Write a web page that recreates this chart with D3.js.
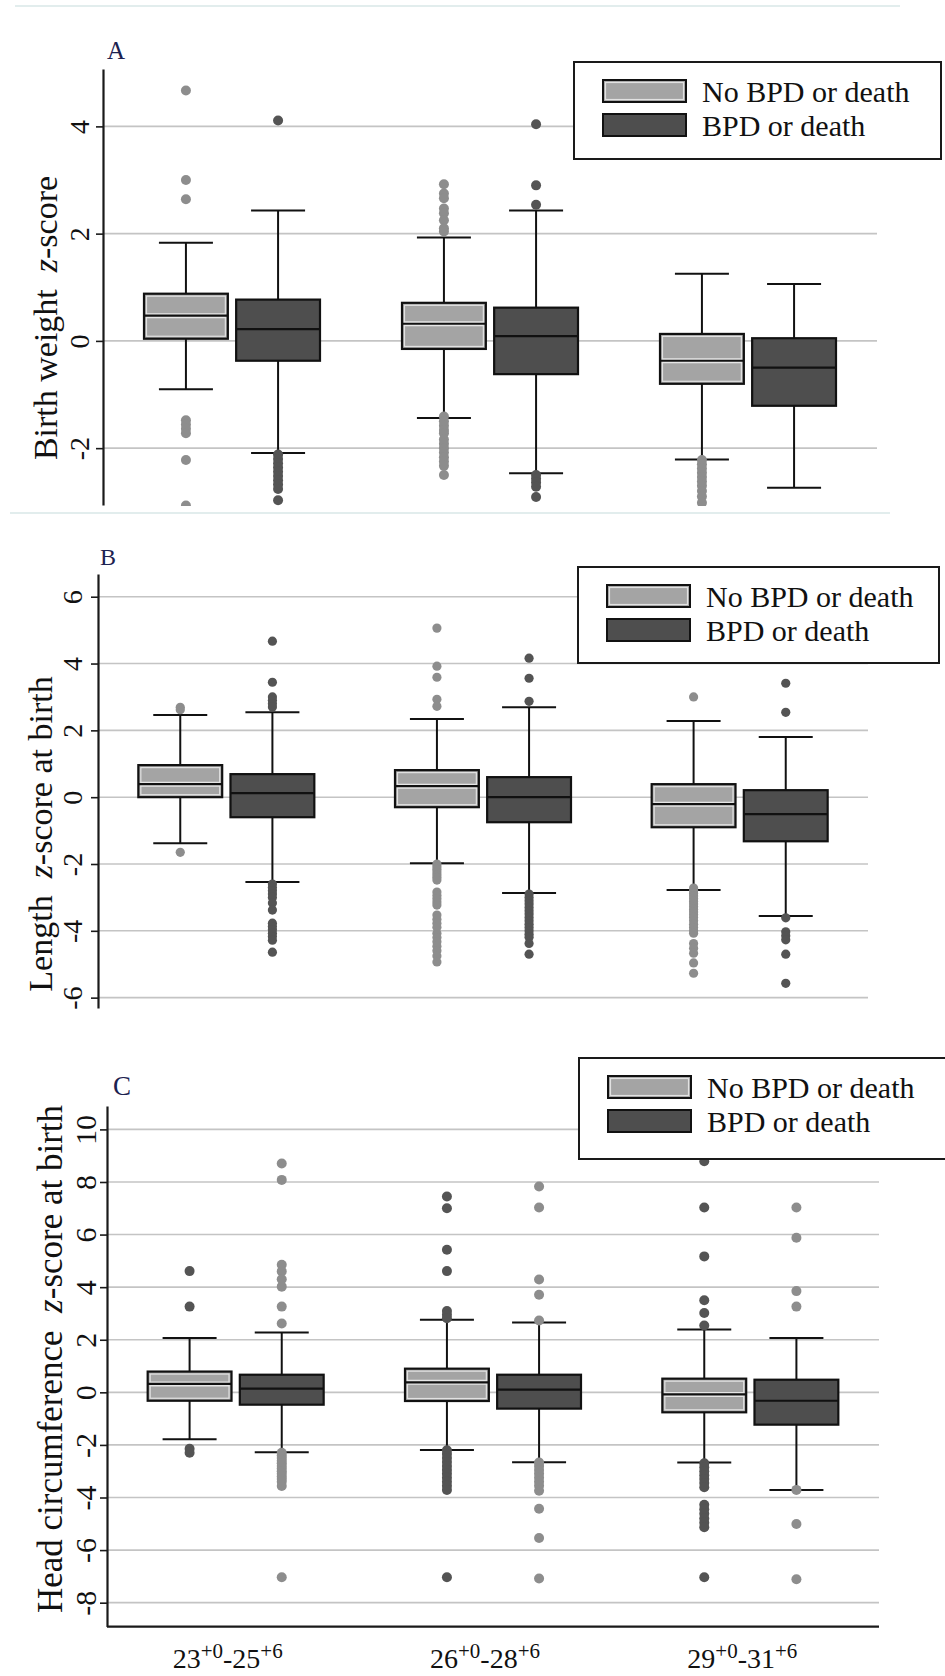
<!DOCTYPE html>
<html>
<head>
<meta charset="utf-8">
<script src="https://cdn.jsdelivr.net/npm/d3@7"></script>
<style>
  body { margin: 0; background: #fff; }
  svg { display: block; font-family: "Liberation Serif", "Times New Roman", serif; }
</style>
</head>
<body>
<div id="chart"></div>
<script>
// gestational age groups and outcome categories
var groups = ["23-25", "26-28", "29-31"];
var groupLabels = [["23", "+0", "-25", "+6"], ["26", "+0", "-28", "+6"], ["29", "+0", "-31", "+6"]];
var outcomes = ["No BPD or death", "BPD or death"];

// box stats per group: [lower whisker, q1, median, q3, upper whisker]
// A: birth weight z-score
var bwNoBpd = [[-0.90, 0.04, 0.47, 0.88, 1.83], [-1.44, -0.15, 0.32, 0.71, 1.93], [-2.21, -0.80, -0.37, 0.13, 1.25]];
var bwBpd = [[-2.09, -0.37, 0.22, 0.77, 2.43], [-2.47, -0.62, 0.09, 0.62, 2.43], [-2.74, -1.21, -0.50, 0.05, 1.06]];
var bwNoBpdOut = [
  [4.67, 3.0, 2.64, -1.48, -1.56, -1.64, -1.72, -2.22, -3.07],
  [2.92, 2.75, 2.66, 2.47, 2.38, 2.25, 2.1, 2.04, -1.41, -1.5, -1.58, -1.66, -1.72, -1.84, -1.92, -2.0, -2.08, -2.17, -2.25, -2.33, -2.5],
  [-2.22, -2.3, -2.38, -2.46, -2.54, -2.62, -2.7, -2.8, -2.9, -3.02]
];
var bwBpdOut = [
  [4.11, -2.12, -2.2, -2.28, -2.36, -2.44, -2.52, -2.6, -2.68, -2.76, -2.97],
  [4.04, 2.9, 2.54, -2.5, -2.57, -2.64, -2.72, -2.91],
  []
];

// B: length z-score at birth
var lenNoBpd = [[-1.38, 0.0, 0.39, 0.96, 2.46], [-1.98, -0.30, 0.33, 0.81, 2.34], [-2.78, -0.90, -0.21, 0.39, 2.28]];
var lenBpd = [[-2.54, -0.60, 0.12, 0.69, 2.54], [-2.87, -0.75, 0.0, 0.60, 2.69], [-3.56, -1.32, -0.51, 0.21, 1.80]];
var lenNoBpdOut = [
  [2.69, 2.62, -1.65],
  [5.06, 3.92, 3.59, 2.93, 2.72, -2.0, -2.08, -2.16, -2.24, -2.32, -2.4, -2.48, -2.84, -2.94, -3.04, -3.14, -3.23, -3.53, -3.65, -3.77, -3.89, -4.07, -4.2, -4.33, -4.46, -4.6, -4.75, -4.93],
  [3.0, -2.72, -2.8, -2.88, -2.96, -3.04, -3.12, -3.2, -3.28, -3.36, -3.44, -3.52, -3.6, -3.7, -3.8, -3.9, -4.0, -4.07, -4.38, -4.52, -4.67, -4.96, -5.27]
];
var lenBpdOut = [
  [4.67, 3.44, 3.0, 2.9, 2.8, 2.7, -2.6, -2.7, -2.8, -2.9, -3.0, -3.17, -3.38, -3.77, -3.87, -3.97, -4.07, -4.17, -4.28, -4.64],
  [4.16, 3.56, 2.87, -2.9, -3.0, -3.1, -3.2, -3.3, -3.4, -3.5, -3.6, -3.7, -3.8, -3.9, -4.0, -4.1, -4.19, -4.38, -4.7],
  [3.41, 2.54, -3.61, -4.03, -4.15, -4.27, -4.7, -5.57]
];

// C: head circumference z-score at birth
var hcNoBpd = [[-1.78, -0.32, 0.32, 0.79, 2.07], [-2.19, -0.33, 0.38, 0.90, 2.76], [-2.67, -0.76, -0.08, 0.52, 2.39]];
var hcBpd = [[-2.28, -0.47, 0.14, 0.67, 2.28], [-2.66, -0.62, 0.10, 0.67, 2.66], [-3.71, -1.23, -0.32, 0.48, 2.07]];
var hcNoBpdOut = [
  [4.61, 3.26, -2.15, -2.3],
  [7.45, 7.0, 5.42, 4.61, 3.09, 2.95, 2.82, -2.2, -2.35, -2.5, -2.65, -2.8, -2.95, -3.1, -3.25, -3.4, -3.55, -3.71, -7.03],
  [8.79, 7.03, 5.17, 3.5, 3.02, 2.54, -2.7, -2.85, -3.0, -3.15, -3.3, -3.45, -3.61, -4.28, -4.45, -4.62, -4.8, -4.96, -5.13, -7.03]
];
var hcBpdOut = [
  [8.7, 8.08, 4.85, 4.6, 4.3, 4.02, 3.26, 2.62, -2.3, -2.4, -2.5, -2.6, -2.7, -2.8, -2.9, -3.0, -3.1, -3.2, -3.3, -3.4, -3.56, -7.03],
  [7.83, 7.03, 4.29, 3.71, 2.73, -2.67, -2.8, -2.95, -3.1, -3.25, -3.4, -3.55, -3.74, -4.43, -5.54, -7.08],
  [7.03, 5.88, 3.85, 3.26, -3.71, -5.01, -7.11]
];

var serif = "'Liberation Serif', 'Times New Roman', serif";
var lightFill = "#a4a4a4", darkFill = "#4e4e4e";
var lightDot = "#8d8d8d", darkDot = "#545454";

var svg = d3.select("#chart").append("svg")
  .attr("width", 945)
  .attr("height", 1676);

// faint separators from the original figure
svg.append("line").attr("x1", 15).attr("x2", 900).attr("y1", 6).attr("y2", 6)
  .attr("stroke", "#e2eded").attr("stroke-width", 2);
svg.append("line").attr("x1", 10).attr("x2", 890).attr("y1", 513).attr("y2", 513)
  .attr("stroke", "#e2eded").attr("stroke-width", 2);

var panels = [
  {
    id: "A", stats: [bwNoBpd, bwBpd], out: [bwNoBpdOut, bwBpdOut],
    title: ["Birth weight  ", "z", "-score"],
    left: 103, right: 877, top: 69, bottom: 505, domain: [-3.06, 5.07],
    ticks: [-2, 0, 2, 4], tickSize: 28, tickGap: 14, r: 5,
    titleX: 57, titleY: 318, titleSize: 34,
    letterX: 107, letterY: 59, letterSize: 25,
    legend: [574, 62, 367, 97], clip: true
  },
  {
    id: "B", stats: [lenNoBpd, lenBpd], out: [lenNoBpdOut, lenBpdOut],
    title: ["Length  ", "z", "-score at birth"],
    left: 98, right: 868, top: 574, bottom: 1008, domain: [-6.31, 6.68],
    ticks: [-6, -4, -2, 0, 2, 4, 6], tickSize: 28, tickGap: 16, r: 4.6,
    titleX: 52, titleY: 834, titleSize: 34,
    letterX: 100, letterY: 565, letterSize: 24,
    legend: [578, 567, 361, 96]
  },
  {
    id: "C", stats: [hcNoBpd, hcBpd], out: [hcNoBpdOut, hcBpdOut],
    title: ["Head circumference  ", "z", "-score at birth"],
    left: 107, right: 879, top: 1106, bottom: 1626.6, domain: [-8.91, 10.89],
    ticks: [-8, -6, -4, -2, 0, 2, 4, 6, 8, 10], tickSize: 30, tickGap: 11, r: 5,
    titleX: 62, titleY: 1359, titleSize: 35,
    letterX: 113, letterY: 1095, letterSize: 27,
    legend: [579, 1058, 368, 101], xAxis: true, swapDots: true
  }
];

panels.forEach(drawPanel);

function drawPanel(p) {
  var g = svg.append("g").attr("class", "panel panel-" + p.id);

  var x = d3.scaleBand().domain(groups).range([p.left, p.right]);
  var inner = d3.scaleBand().domain(outcomes).range([-88, 88]).paddingInner(0.09);
  var y = d3.scaleLinear().domain(p.domain).range([p.bottom, p.top]);
  var bw = inner.bandwidth();

  // grid
  g.append("g").selectAll("line")
    .data(p.ticks)
    .enter().append("line")
    .attr("x1", p.left).attr("x2", p.right)
    .attr("y1", function(d) { return y(d); })
    .attr("y2", function(d) { return y(d); })
    .attr("stroke", "#c4c4c4").attr("stroke-width", 1.6);

  // y axis, rotated tick labels like the Stata original
  var yAxis = g.append("g")
    .attr("transform", "translate(" + p.left + ",0)")
    .call(d3.axisLeft(y).tickValues(p.ticks).tickSize(7).tickSizeOuter(0)
      .tickFormat(function(d) { return String(d); }))
    .attr("font-family", serif)
    .attr("font-size", p.tickSize);
  yAxis.select(".domain").attr("stroke", "#1a1a1a").attr("stroke-width", 2.2);
  yAxis.selectAll(".tick line").attr("stroke", "#1a1a1a").attr("stroke-width", 1.6);
  yAxis.selectAll(".tick text")
    .attr("transform", "rotate(-90)")
    .attr("x", 0).attr("y", -p.tickGap).attr("dy", 0)
    .attr("text-anchor", "middle")
    .attr("fill", "#111");

  if (p.xAxis) {
    g.append("line").attr("x1", p.left).attr("x2", p.right)
      .attr("y1", p.bottom).attr("y2", p.bottom)
      .attr("stroke", "#1a1a1a").attr("stroke-width", 2.2);
    var lab = g.append("g").selectAll("text")
      .data(groupLabels)
      .enter().append("text")
      .attr("x", function(d, i) { return x(groups[i]) + x.bandwidth() / 2 - 8; })
      .attr("y", p.bottom + 41)
      .attr("text-anchor", "middle")
      .attr("fill", "#111")
      .style("font-size", "28px");
    lab.each(function(d) {
      var t = d3.select(this);
      t.append("tspan").text(d[0]);
      t.append("tspan").attr("dy", -10).style("font-size", "21px").text(d[1]);
      t.append("tspan").attr("dy", 10).text(d[2]);
      t.append("tspan").attr("dy", -10).style("font-size", "21px").text(d[3]);
    });
  }

  // y title
  var title = g.append("text")
    .attr("transform", "translate(" + p.titleX + "," + p.titleY + ") rotate(-90)")
    .attr("text-anchor", "middle")
    .attr("fill", "#111")
    .style("white-space", "pre")
    .style("font-size", p.titleSize + "px");
  title.append("tspan").text(p.title[0]);
  title.append("tspan").style("font-style", "italic").text(p.title[1]);
  title.append("tspan").text(p.title[2]);

  g.append("text")
    .attr("x", p.letterX).attr("y", p.letterY)
    .attr("fill", "#1c2250")
    .style("font-size", p.letterSize + "px")
    .text(p.id);

  var plot = g.append("g");
  if (p.clip) {
    svg.append("clipPath").attr("id", "clip-" + p.id)
      .append("rect").attr("x", p.left).attr("y", p.top - 20)
      .attr("width", p.right - p.left).attr("height", p.bottom - p.top + 21);
    plot.attr("clip-path", "url(#clip-" + p.id + ")");
  }

  outcomes.forEach(function(oc, k) {
    var light = k === 0;
    var boxes = plot.append("g").selectAll("g")
      .data(p.stats[k])
      .enter().append("g")
      .attr("transform", function(d, i) {
        return "translate(" + (x(groups[i]) + x.bandwidth() / 2 + inner(oc) + bw / 2) + ",0)";
      });

    // whiskers
    boxes.append("line")
      .attr("y1", function(d) { return y(d[3]); })
      .attr("y2", function(d) { return y(d[4]); })
      .attr("stroke", "#111").attr("stroke-width", 2);
    boxes.append("line")
      .attr("y1", function(d) { return y(d[1]); })
      .attr("y2", function(d) { return y(d[0]); })
      .attr("stroke", "#111").attr("stroke-width", 2);
    [0, 4].forEach(function(j) {
      boxes.append("line")
        .attr("x1", -27).attr("x2", 27)
        .attr("y1", function(d) { return y(d[j]); })
        .attr("y2", function(d) { return y(d[j]); })
        .attr("stroke", "#111").attr("stroke-width", 2);
    });

    boxes.append("rect")
      .attr("x", -bw / 2).attr("width", bw)
      .attr("y", function(d) { return y(d[3]); })
      .attr("height", function(d) { return y(d[1]) - y(d[3]); })
      .attr("fill", light ? lightFill : darkFill)
      .attr("stroke", "#111").attr("stroke-width", 2.2);
    if (light) {
      boxes.append("rect")
        .attr("x", -bw / 2 + 2.5).attr("width", bw - 5)
        .attr("y", function(d) { return y(d[3]) + 2.5; })
        .attr("height", function(d) { return Math.max(0, y(d[1]) - y(d[3]) - 5); })
        .attr("fill", "none").attr("stroke", "#e2e2e2").attr("stroke-width", 1.2);
      boxes.append("line")
        .attr("x1", -bw / 2 + 2).attr("x2", bw / 2 - 2)
        .attr("y1", function(d) { return y(d[2]); })
        .attr("y2", function(d) { return y(d[2]); })
        .attr("stroke", "#e6e6e6").attr("stroke-width", 5);
    }
    boxes.append("line")
      .attr("x1", -bw / 2).attr("x2", bw / 2)
      .attr("y1", function(d) { return y(d[2]); })
      .attr("y2", function(d) { return y(d[2]); })
      .attr("stroke", "#111").attr("stroke-width", 2.2);

    // outside values
    var dotColor = (light !== !!p.swapDots) ? lightDot : darkDot;
    boxes.each(function(d, i) {
      d3.select(this).selectAll("circle")
        .data(p.out[k][i])
        .enter().append("circle")
        .attr("cx", 0)
        .attr("cy", function(v) { return y(v); })
        .attr("r", p.r)
        .attr("fill", dotColor);
    });
  });

  // legend
  var L = p.legend;
  var leg = g.append("g").attr("transform", "translate(" + L[0] + "," + L[1] + ")");
  leg.append("rect").attr("width", L[2]).attr("height", L[3])
    .attr("fill", "#fff").attr("stroke", "#1a1a1a").attr("stroke-width", 2);
  var rows = leg.selectAll(".row").data(outcomes).enter().append("g")
    .attr("class", "row")
    .attr("transform", function(d, i) { return "translate(0," + (i * 34) + ")"; });
  rows.append("rect")
    .attr("x", 29).attr("y", 18).attr("width", 83).attr("height", 22)
    .attr("fill", function(d, i) { return i === 0 ? lightFill : darkFill; })
    .attr("stroke", "#111").attr("stroke-width", 2);
  rows.filter(function(d, i) { return i === 0; }).append("rect")
    .attr("x", 31.5).attr("y", 20.5).attr("width", 78).attr("height", 17)
    .attr("fill", "none").attr("stroke", "#e2e2e2").attr("stroke-width", 1.2);
  rows.append("text")
    .attr("x", 128).attr("y", 40)
    .attr("fill", "#111")
    .style("font-family", serif)
    .style("font-size", "30px")
    .text(function(d) { return d; });
}
</script>
</body>
</html>
